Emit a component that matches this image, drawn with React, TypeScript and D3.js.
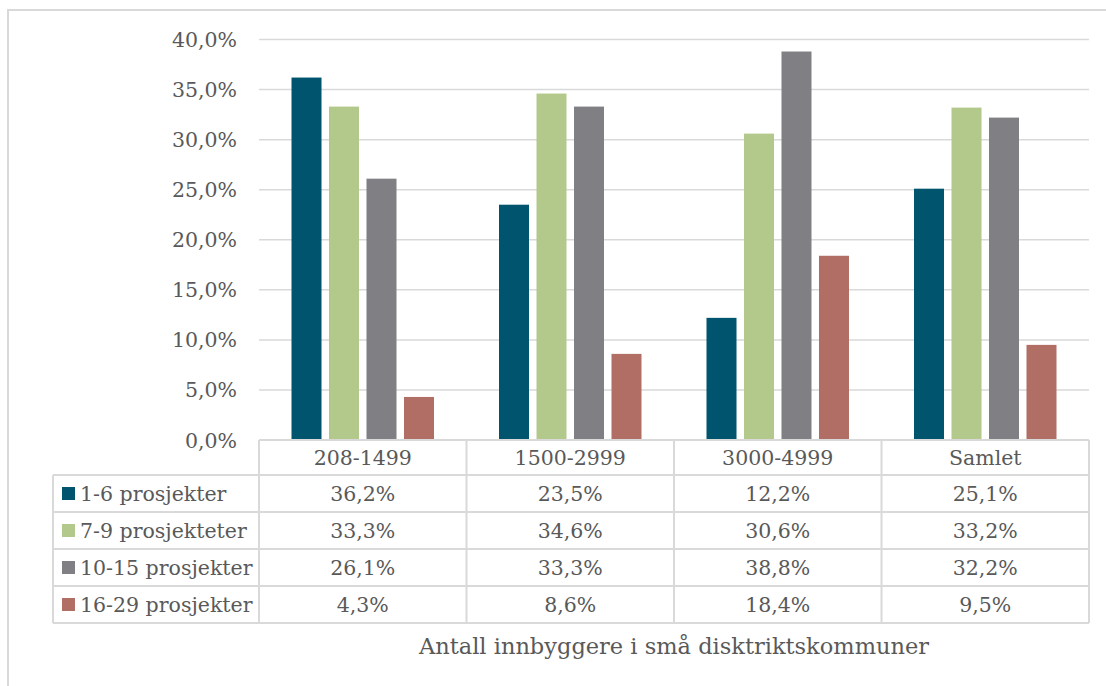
import React from "react";
import * as d3 from "d3";

const categories = ["208-1499", "1500-2999", "3000-4999", "Samlet"];
const seriesNames = ["1-6 prosjekter", "7-9 prosjekteter", "10-15 prosjekter", "16-29 prosjekter"];
const seriesColors = ["#00546E", "#B3C98B", "#7F7F84", "#B06E64"];
const values = [
  [36.2, 23.5, 12.2, 25.1],
  [33.3, 34.6, 30.6, 33.2],
  [26.1, 33.3, 38.8, 32.2],
  [4.3, 8.6, 18.4, 9.5],
];
const yTicks = [0, 5, 10, 15, 20, 25, 30, 35, 40];
const xTitle = "Antall innbyggere i små disktriktskommuner";

const fmt = (v: number) => v.toFixed(1).replace(".", ",") + "%";

export default function App() {
  const W = 1106, H = 686;
  const left = 259, right = 1089;
  const y = d3.scaleLinear().domain([0, 40]).range([440, 39.5]);
  const x = d3.scaleBand<string>().domain(categories).range([left, right]);
  const xi = d3
    .scaleBand<number>()
    .domain(d3.range(seriesNames.length))
    .range([0, x.bandwidth()])
    .paddingInner(0.2)
    .paddingOuter(0.867);

  const tableTop = 440;
  const headerH = 35;
  const rowH = 37;
  const tableLeft = 53;
  const font = "'DejaVu Serif', serif";
  const textColor = "#595959";
  const grid = "#D9D9D9";
  const fs = 20.5;

  return (
    <svg width={W} height={H} style={{ position: "absolute", left: 0, top: 0 }} fontFamily={font}>
      <rect x={0} y={0} width={W} height={H} fill="#fff" />
      {/* outer border */}
      <path d={`M8,${H + 5} V10 H${W + 5}`} fill="none" stroke={grid} strokeWidth={2} />
      {/* gridlines */}
      {yTicks.map((t) => (
        <g key={t}>
          {t > 0 && (
            <line x1={left} x2={right} y1={y(t)} y2={y(t)} stroke={grid} strokeWidth={1.5} />
          )}
          <text x={237} y={y(t) + 7.5} textAnchor="end" fontSize={fs} fill={textColor}>
            {fmt(t)}
          </text>
        </g>
      ))}
      {/* bars */}
      {categories.map((c, ci) => (
        <g key={c} transform={`translate(${x(c)},0)`}>
          {seriesNames.map((s, si) => (
            <rect
              key={s}
              x={xi(si)}
              width={xi.bandwidth()}
              y={y(values[si][ci])}
              height={y(0) - y(values[si][ci])}
              fill={seriesColors[si]}
            />
          ))}
        </g>
      ))}
      {/* table */}
      <g stroke={grid} strokeWidth={2} fill="none">
        <line x1={left} x2={right} y1={tableTop} y2={tableTop} />
        {seriesNames.map((s, i) => (
          <line key={s} x1={tableLeft} x2={right} y1={tableTop + headerH + i * rowH} y2={tableTop + headerH + i * rowH} />
        ))}
        <line x1={tableLeft} x2={right} y1={tableTop + headerH + 4 * rowH} y2={tableTop + headerH + 4 * rowH} />
        <line x1={tableLeft} x2={tableLeft} y1={tableTop + headerH} y2={tableTop + headerH + 4 * rowH} />
        {[...categories.map((c) => x(c) as number), right].map((xx, i) => (
          <line key={i} x1={xx} x2={xx} y1={tableTop} y2={tableTop + headerH + 4 * rowH} />
        ))}
      </g>
      {categories.map((c) => (
        <text
          key={c}
          x={(x(c) as number) + x.bandwidth() / 2}
          y={tableTop + headerH / 2 + 7.5}
          textAnchor="middle"
          fontSize={fs}
          fill={textColor}
        >
          {c}
        </text>
      ))}
      {seriesNames.map((s, si) => {
        const cy = tableTop + headerH + si * rowH + rowH / 2;
        return (
          <g key={s}>
            <rect x={62} y={cy - 6.5} width={13} height={13} fill={seriesColors[si]} />
            <text x={80} y={cy + 7.5} fontSize={fs} fill={textColor}>
              {s}
            </text>
            {categories.map((c, ci) => (
              <text
                key={c}
                x={(x(c) as number) + x.bandwidth() / 2}
                y={cy + 7.5}
                textAnchor="middle"
                fontSize={fs}
                fill={textColor}
              >
                {fmt(values[si][ci])}
              </text>
            ))}
          </g>
        );
      })}
      <text x={(left + right) / 2} y={654} textAnchor="middle" fontSize={22.5} fill={textColor}>
        {xTitle}
      </text>
    </svg>
  );
}
